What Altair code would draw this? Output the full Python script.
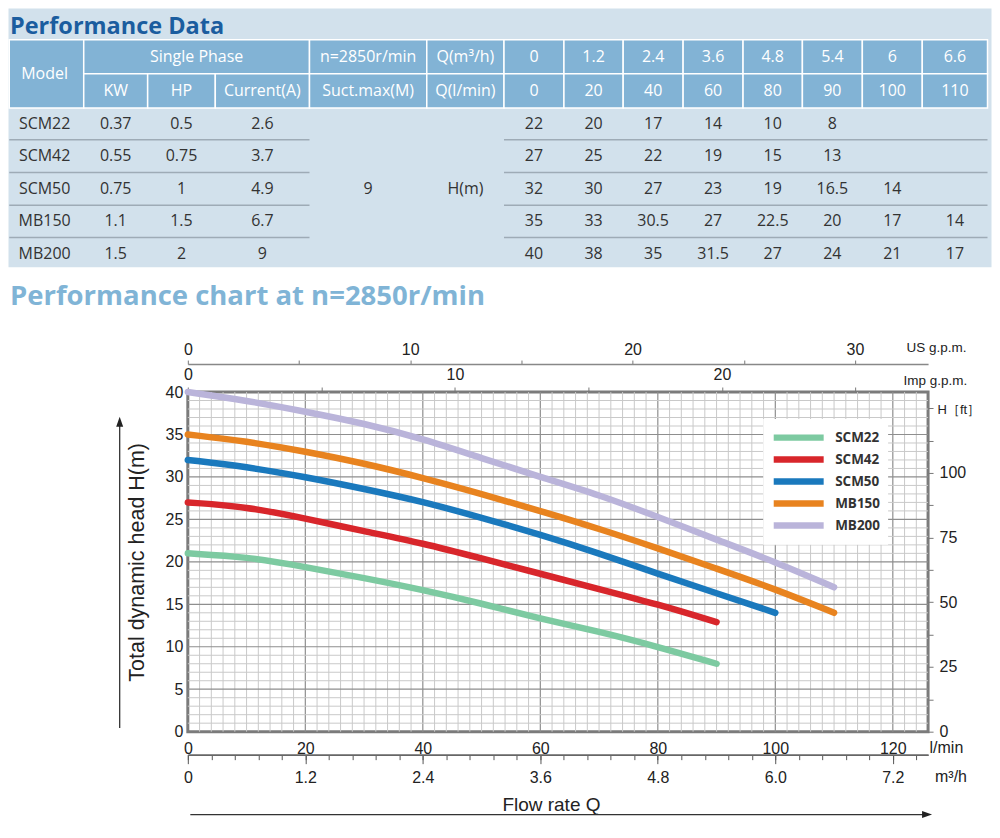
import altair as alt
import pandas as pd

# ================= table values =================
MODELS = ["SCM22", "SCM42", "SCM50", "MB150", "MB200"]
KW = ["0.37", "0.55", "0.75", "1.1", "1.5"]
HP = ["0.5", "0.75", "1", "1.5", "2"]
CURRENT_A = ["2.6", "3.7", "4.9", "6.7", "9"]
SUCT_MAX = "9"
Q_M3H = ["0", "1.2", "2.4", "3.6", "4.8", "5.4", "6", "6.6"]
Q_LMIN = ["0", "20", "40", "60", "80", "90", "100", "110"]
HEAD_SCM22 = ["22", "20", "17", "14", "10", "8"]
HEAD_SCM42 = ["27", "25", "22", "19", "15", "13"]
HEAD_SCM50 = ["32", "30", "27", "23", "19", "16.5", "14"]
HEAD_MB150 = ["35", "33", "30.5", "27", "22.5", "20", "17", "14"]
HEAD_MB200 = ["40", "38", "35", "31.5", "27", "24", "21", "17"]
HEAD_ROWS = [HEAD_SCM22, HEAD_SCM42, HEAD_SCM50, HEAD_MB150, HEAD_MB200]

# ================= curve values (l/min, m) =================
SCM22_Q = [0, 10, 20, 30, 40, 50, 60, 70, 80, 90]
SCM22_H = [21.0, 20.6, 19.4, 18.1, 16.7, 15.1, 13.3, 11.8, 10.0, 8.0]
SCM42_Q = [0, 10, 20, 30, 40, 50, 60, 70, 80, 90]
SCM42_H = [27.0, 26.5, 25.1, 23.6, 22.2, 20.4, 18.6, 16.8, 15.0, 12.9]
SCM50_Q = [0, 10, 20, 30, 40, 50, 60, 70, 80, 90, 100]
SCM50_H = [32.0, 31.2, 30.0, 28.6, 27.1, 25.2, 23.2, 21.0, 18.6, 16.3, 14.0]
MB150_Q = [0, 10, 20, 30, 40, 50, 60, 70, 80, 90, 100, 110]
MB150_H = [35.0, 34.2, 33.0, 31.6, 29.9, 28.0, 26.0, 23.9, 21.6, 19.2, 16.8, 14.0]
MB200_Q = [0, 10, 20, 30, 40, 50, 60, 70, 80, 90, 100, 110]
MB200_H = [40.0, 39.0, 37.7, 36.3, 34.5, 32.2, 30.0, 27.9, 25.3, 22.6, 20.0, 17.0]
CURVES_Q = [SCM22_Q, SCM42_Q, SCM50_Q, MB150_Q, MB200_Q]
CURVES_H = [SCM22_H, SCM42_H, SCM50_H, MB150_H, MB200_H]
COLORS = ["#7dcaa1", "#d8262b", "#1a79bd", "#e8831f", "#bab4da"]

# ================= axis ticks / labels =================
LMIN_TICKS = [0, 20, 40, 60, 80, 100, 120]
H_TICKS = [0, 5, 10, 15, 20, 25, 30, 35, 40]
M3H_TICKS = [0, 1.2, 2.4, 3.6, 4.8, 6.0, 7.2]
M3H_LABELS = ["0", "1.2", "2.4", "3.6", "4.8", "6.0", "7.2"]
M3H_MINOR = [round(0.24 * i, 2) for i in range(32)]
IMP_TICKS = [0, 5, 10, 15, 20, 25]
IMP_LABELS = ["0", "", "10", "", "20", ""]
US_TICKS = [0, 5, 10, 15, 20, 25, 30]
US_LABELS = ["0", "", "10", "", "20", "", "30"]
FT_TICKS = [0, 12.5, 25, 37.5, 50, 62.5, 75, 87.5, 100, 112.5, 125]
FT_LABELS = ["0", "", "25", "", "50", "", "75", "", "100", "", ""]

# ================= layout (reference pixels) =================
PLOT_W, PLOT_H = 741, 340
X0, Y0 = 187.5, 392            # plot origin on the page
Q_MAX, H_MAX = 126, 40
COL_EDGES = [8.75, 83.3, 147.3, 215, 309.3, 426.7, 504, 564, 623.3, 683.3,
             743.3, 802.7, 862.7, 922.7, 988]
HDR_EDGES = [39.3, 73.3, 107.7]
ROW_EDGES = [107.7, 139.4, 172.3, 205, 237.3, 270]
BG = "#d2e1ec"
HDR = "#82b3d5"
TXT = "#333333"
SANS = "Liberation Sans"
NARROW = "Liberation Sans Narrow, Arial Narrow, Liberation Sans"
OPEN = "Open Sans"


def label_expr(values, labels):
    vals = ",".join(str(v) for v in values)
    labs = ",".join("'" + l + "'" for l in labels)
    return f"[{labs}][indexof([{vals}], datum.value)]"


def mid(a, b):
    return (a + b) / 2


TX = alt.Scale(domain=[X0, X0 + PLOT_W], nice=False, zero=False)
TY = alt.Scale(domain=[Y0, Y0 + PLOT_H], nice=False, zero=False, reverse=True)


def tx(f):
    return alt.X(f, type="quantitative", scale=TX, axis=None)


def ty(f):
    return alt.Y(f, type="quantitative", scale=TY, axis=None)


# ---------- table: background ----------
bg = alt.Chart(pd.DataFrame({"x": [8], "x2": [992], "y": [8], "y2": [267]})).mark_rect(
    color=BG).encode(x=tx("x"), x2="x2:Q", y=ty("y"), y2="y2:Q")

# ---------- table: header cells ----------
cells = []
texts = []
C = COL_EDGES
H = HDR_EDGES
cells.append((C[0], C[1], H[0], H[2]))
texts.append(("Model", mid(5, C[1]), mid(H[0], H[2]), "white"))
cells.append((C[1], C[4], H[0], H[1]))
texts.append(("Single Phase", mid(C[1], C[4]), mid(H[0], H[1]), "white"))
cells.append((C[4], C[5], H[0], H[1]))
texts.append(("n=2850r/min", mid(C[4], C[5]), mid(H[0], H[1]), "white"))
cells.append((C[5], C[6], H[0], H[1]))
texts.append(("Q(m³/h)", mid(C[5], C[6]), mid(H[0], H[1]), "white"))
for lab, i in zip(["KW", "HP", "Current(A)", "Suct.max(M)", "Q(l/min)"], range(1, 6)):
    cells.append((C[i], C[i + 1], H[1], H[2]))
    texts.append((lab, mid(C[i], C[i + 1]), mid(H[1], H[2]), "white"))
for j in range(8):
    ci = 6 + j
    cells.append((C[ci], C[ci + 1], H[0], H[1]))
    cells.append((C[ci], C[ci + 1], H[1], H[2]))
    texts.append((Q_M3H[j], mid(C[ci], C[ci + 1]), mid(H[0], H[1]), "white"))
    texts.append((Q_LMIN[j], mid(C[ci], C[ci + 1]), mid(H[1], H[2]), "white"))

cell_df = pd.DataFrame(cells, columns=["x", "x2", "y", "y2"])
hdr = alt.Chart(cell_df).mark_rect(fill=HDR, stroke="white", strokeWidth=1.5).encode(
    x=tx("x"), x2="x2:Q", y=ty("y"), y2="y2:Q")

# ---------- table: body ----------
R = ROW_EDGES
for r, model in enumerate(MODELS):
    cy = mid(R[r], R[r + 1])
    for val, ci in zip([model, KW[r], HP[r], CURRENT_A[r]], range(4)):
        cx = mid(5, C[1]) if ci == 0 else mid(C[ci], C[ci + 1])
        texts.append((val, cx, cy, TXT))
    for j, val in enumerate(HEAD_ROWS[r]):
        ci = 6 + j
        texts.append((val, mid(C[ci], C[ci + 1]), cy, TXT))
texts.append((SUCT_MAX, mid(C[4], C[5]), mid(R[0], R[-1]), TXT))
texts.append(("H(m)", mid(C[5], C[6]), mid(R[0], R[-1]), TXT))

text_df = pd.DataFrame(texts, columns=["t", "x", "y", "c"])
table_text = alt.Chart(text_df).mark_text(font=OPEN, fontSize=16, baseline="middle",
                                          align="center").encode(
    x=tx("x"), y=ty("y"), text="t:N", color=alt.Color("c:N", scale=None))

seps = []
for k in range(1, 5):
    seps.append((C[0], C[4], R[k]))
    seps.append((C[6], C[-1], R[k]))
sep_df = pd.DataFrame(seps, columns=["x", "x2", "y"])
row_lines = alt.Chart(sep_df).mark_rule(color="#9eabb6", strokeWidth=1.5).encode(
    x=tx("x"), x2="x2:Q", y=ty("y"))

title_df = pd.DataFrame({
    "t": ["Performance Data", "Performance chart at n=2850r/min"],
    "x": [9.5, 9.5], "y": [33.5, 305], "s": [23.5, 27.5],
    "c": ["#1b5d9f", "#80b4d6"]})
titles = alt.Chart(title_df).mark_text(font=OPEN, fontWeight="bold", align="left",
                                       baseline="alphabetic").encode(
    x=tx("x"), y=ty("y"), text="t:N", color=alt.Color("c:N", scale=None),
    size=alt.Size("s:Q", scale=None))

# ---------- chart: grid ----------
XS = alt.Scale(domain=[0, Q_MAX], nice=False, zero=False)
YS = alt.Scale(domain=[0, H_MAX], nice=False, zero=False)
vrows = [(q, "#c9c9c9", 1.0) for q in range(2, Q_MAX, 2) if q % 20]
vrows += [(q, "#8e8e8e", 1.2) for q in range(20, Q_MAX, 20)]
vgrid = alt.Chart(pd.DataFrame(vrows, columns=["q", "c", "w"])).mark_rule().encode(
    x=alt.X("q:Q", scale=XS, axis=None), color=alt.Color("c:N", scale=None),
    strokeWidth=alt.StrokeWidth("w:Q", scale=None))
hrows = [(h, "#c9c9c9", 1.0) for h in range(1, H_MAX) if h % 5]
hrows += [(h, "#8e8e8e", 1.2) for h in range(5, H_MAX, 5)]
hgrid = alt.Chart(pd.DataFrame(hrows, columns=["h", "c", "w"])).mark_rule().encode(
    y=alt.Y("h:Q", scale=YS, axis=None), color=alt.Color("c:N", scale=None),
    strokeWidth=alt.StrokeWidth("w:Q", scale=None))

# ---------- chart: curves ----------
crow = []
for m, qs, hs in zip(MODELS, CURVES_Q, CURVES_H):
    for q, h in zip(qs, hs):
        crow.append((m, q, h))
curve_df = pd.DataFrame(crow, columns=["model", "q", "h"])
curves = alt.Chart(curve_df).mark_line(interpolate="basis", strokeWidth=6.5,
                                       strokeCap="round").encode(
    x=alt.X("q:Q", scale=XS, axis=alt.Axis(
        orient="bottom", values=LMIN_TICKS, ticks=False, tickSize=0, domain=False,
        labelPadding=9, labelFont=NARROW, labelFontSize=16, labelFlush=False,
        title="l/min", titleFont=NARROW, titleFontSize=16, titleFontWeight="normal",
        titleAngle=0, titleX=742, titleY=16, titleAlign="left", titleBaseline="middle")),
    y=alt.Y("h:Q", scale=YS, axis=alt.Axis(
        orient="left", values=H_TICKS, ticks=False, tickSize=0, domain=False,
        labelPadding=5, labelFont=SANS, labelFontSize=16, labelFlush=False,
        title="Total dynamic head H(m)", titleFont=SANS, titleFontSize=21.5,
        titleFontWeight="normal", titleAngle=270, titleX=-44.8, titleY=170,
        titleAlign="center", titleBaseline="alphabetic")),
    color=alt.Color("model:N", scale=alt.Scale(domain=MODELS, range=COLORS),
                    legend=alt.Legend(
                        title=None, orient="none", legendX=576, legendY=27,
                        fillColor="white", padding=8, symbolType="stroke",
                        symbolSize=2500, symbolStrokeWidth=6.5, clipHeight=21.3,
                        rowPadding=0, labelFont=OPEN, labelFontWeight="bold",
                        labelFontSize=13.5, labelColor=TXT, labelOffset=8,
                        symbolOffset=-1)),
    order=alt.Order("q:Q"))

# ---------- chart: extra unit axes ----------
def axis_layer(vals, channel, scale, axis):
    df = pd.DataFrame({"v": vals})
    base = alt.Chart(df).mark_point(opacity=0)
    if channel == "x":
        return base.encode(x=alt.X("v:Q", scale=scale, axis=axis), y=alt.value(0))
    return base.encode(y=alt.Y("v:Q", scale=scale, axis=axis), x=alt.value(0))


m3h_major = axis_layer(M3H_TICKS, "x", alt.Scale(domain=[0, Q_MAX * 0.06], nice=False, zero=False),
                       alt.Axis(orient="bottom", offset=23, values=M3H_TICKS,
                                labelExpr=label_expr(M3H_TICKS, M3H_LABELS),
                                tickSize=9, tickColor="#555", tickWidth=1,
                                domain=True, domainColor="#666", domainWidth=1.5,
                                labelPadding=6, labelFont=NARROW, labelFontSize=16,
                                labelFlush=False, labelOverlap=False,
                                title="Flow rate Q", titleFont=NARROW, titleFontSize=19,
                                titleFontWeight="normal", titleAngle=0, titleX=363.5,
                                titleY=50, titleAlign="center", titleBaseline="middle"))
m3h_minor = axis_layer(M3H_MINOR, "x", alt.Scale(domain=[0, Q_MAX * 0.06], nice=False, zero=False),
                       alt.Axis(orient="bottom", offset=23, values=M3H_MINOR, labels=False,
                                tickSize=5, tickColor="#555", tickWidth=1,
                                domain=True, domainColor="#666", domainWidth=1.5,
                                title="m³/h", titleFont=NARROW, titleFontSize=16,
                                titleFontWeight="normal", titleAngle=0, titleX=747.5,
                                titleY=22, titleAlign="left", titleBaseline="middle"))
imp_axis = axis_layer(IMP_TICKS, "x", alt.Scale(domain=[0, Q_MAX / 4.54609], nice=False, zero=False),
                      alt.Axis(orient="top", offset=0, values=IMP_TICKS,
                               labelExpr=label_expr(IMP_TICKS, IMP_LABELS),
                               tickSize=5, tickColor="#777", domain=False,
                               labelPadding=5, labelFont=SANS, labelFontSize=16,
                               labelFlush=False, labelOverlap=False,
                               title="Imp g.p.m.", titleFont=SANS, titleFontSize=13.5,
                               titleFontWeight="normal", titleAngle=0, titleX=716,
                               titleY=-12, titleAlign="left", titleBaseline="middle"))
us_axis = axis_layer(US_TICKS, "x", alt.Scale(domain=[0, Q_MAX / 3.78541], nice=False, zero=False),
                     alt.Axis(orient="top", offset=28, values=US_TICKS,
                              labelExpr=label_expr(US_TICKS, US_LABELS),
                              tickSize=4, tickColor="#777", domain=True,
                              domainColor="#888", domainWidth=1.5,
                              labelPadding=3, labelFont=SANS, labelFontSize=16,
                              labelFlush=False, labelOverlap=False,
                              title="US g.p.m.", titleFont=SANS, titleFontSize=13.5,
                              titleFontWeight="normal", titleAngle=0, titleX=719,
                              titleY=-17, titleAlign="left", titleBaseline="middle"))
ft_axis = axis_layer(FT_TICKS, "y", alt.Scale(domain=[0, H_MAX * 3.28084], nice=False, zero=False),
                     alt.Axis(orient="right", values=FT_TICKS,
                              labelExpr=label_expr(FT_TICKS, FT_LABELS),
                              tickSize=5, tickColor="#777", domain=False,
                              labelPadding=6, labelFont=SANS, labelFontSize=16,
                              labelFlush=False, labelOverlap=False,
                              title="H［ft］", titleFont=SANS, titleFontSize=13,
                              titleFontWeight="normal", titleAngle=0, titleX=9,
                              titleY=17, titleAlign="left", titleBaseline="middle"))

# ---------- chart: arrows ----------
arrow_df = pd.DataFrame({"x": [-68.2, 2.5], "x2": [-68.2, 740], "y": [336.3, 423],
                         "y2": [30, 423]})
arrow_lines = alt.Chart(arrow_df).mark_rule(color="#333", strokeWidth=1.3).encode(
    x=alt.X("x:Q", scale=None), x2="x2:Q", y=alt.Y("y:Q", scale=None), y2="y2:Q")
head_df = pd.DataFrame({"x": [-68.2, 740], "y": [29.7, 423],
                        "s": ["M0,-1L0.7,1L-0.7,1Z", "M1,0L-1,0.7L-1,-0.7Z"]})
arrow_heads = alt.Chart(head_df).mark_point(filled=True, size=100, color="#222",
                                            opacity=1).encode(
    x=alt.X("x:Q", scale=None), y=alt.Y("y:Q", scale=None),
    shape=alt.Shape("s:N", scale=None))

chart = alt.layer(
    bg, hdr, row_lines, table_text, titles,
    vgrid, hgrid, curves,
    m3h_minor, m3h_major, imp_axis, us_axis, ft_axis,
    arrow_lines, arrow_heads,
).resolve_scale(
    x="independent", y="independent", color="independent"
).properties(
    width=PLOT_W, height=PLOT_H, padding=0, background="white"
).configure_view(
    stroke="#7b7b7b", strokeWidth=3, fill="white"
).configure_axis(
    grid=False, labelColor="#222", titleColor="#222"
)

chart.save("out.html", embed_options={"renderer": "svg", "actions": False})
